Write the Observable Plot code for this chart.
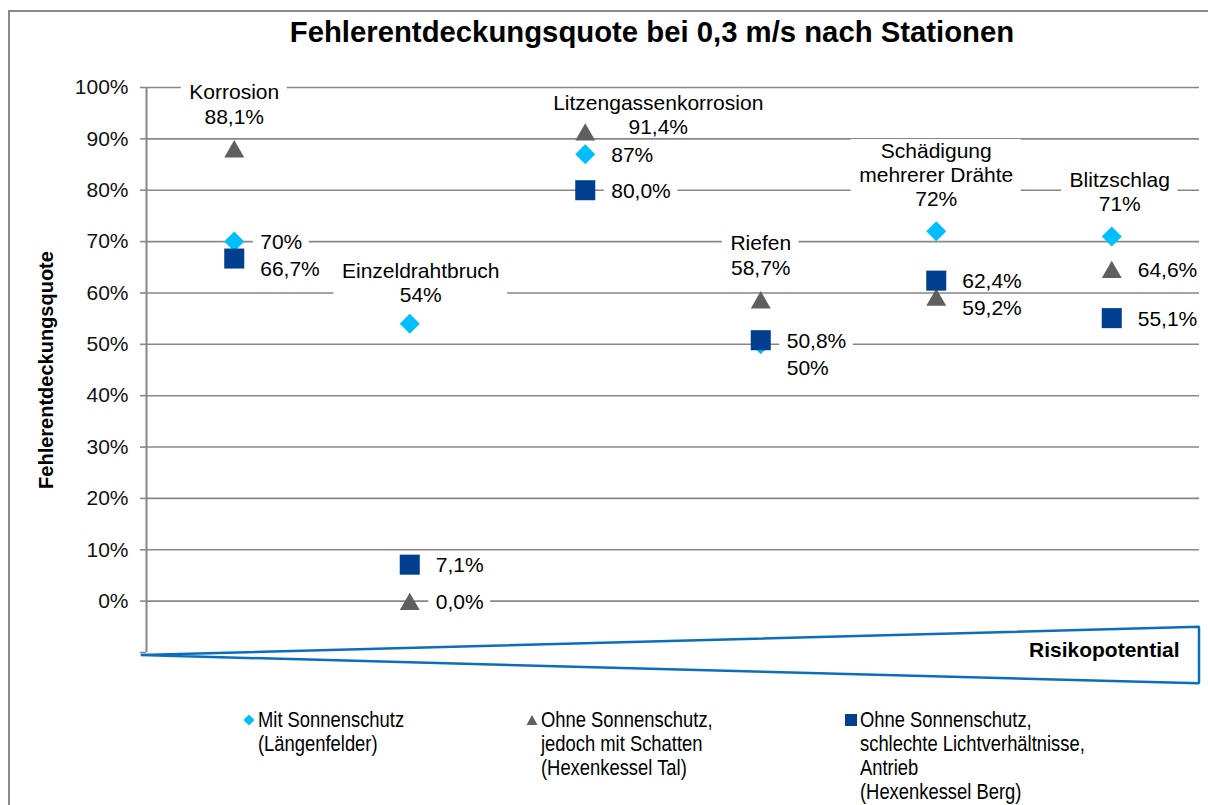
<!DOCTYPE html>
<html>
<head>
<meta charset="utf-8">
<script src="https://cdn.jsdelivr.net/npm/d3@7"></script>
<script src="https://cdn.jsdelivr.net/npm/@observablehq/plot@0.6"></script>
<style>
  html, body { margin: 0; padding: 0; background: #fff; overflow: hidden; }
  #wrap { position: relative; width: 1208px; height: 805px; overflow: hidden; font-family: "Liberation Sans", Arial, sans-serif; color: #000; }
  #frame { position: absolute; left: 8px; top: 10px; width: 1400px; height: 1000px; border: 2px solid #8a8a8a; box-sizing: border-box; }
  #chart { position: absolute; left: 0; top: 0; }
  #title { position: absolute; left: 146px; width: 1012px; top: 14px; text-align: center; font-weight: bold; font-size: 29.3px; line-height: 36px; }
  .leg { position: absolute; top: 708px; font-family: "Liberation Sans", Arial, sans-serif; font-size: 21.5px; line-height: 24px; white-space: pre; transform: scaleX(0.855); transform-origin: 0 0; }
  .legsym { position: absolute; top: 713px; }
</style>
</head>
<body>
<div id="wrap">
  <div id="frame"></div>
  <div id="chart"></div>
  <div id="title">Fehlerentdeckungsquote bei 0,3 m/s nach Stationen</div>
  <div id="legend"></div>
</div>
<script>
// ---------- data ----------
const categories = ["Korrosion", "Einzeldrahtbruch", "Litzengassenkorrosion", "Riefen", "Schädigung\nmehrerer Drähte", "Blitzschlag"];
const mitSonnenschutz = [70, 54, 87, 50, 72, 71];                 // Längenfelder
const ohneSonnenschutzSchatten = [88.1, 0.0, 91.4, 58.7, 59.2, 64.6]; // Hexenkessel Tal
const ohneSonnenschutzBerg = [66.7, 7.1, 80.0, 50.8, 62.4, 55.1];     // Hexenkessel Berg
const seriesNames = [
  "Mit Sonnenschutz\n(Längenfelder)",
  "Ohne Sonnenschutz,\njedoch mit Schatten\n(Hexenkessel Tal)",
  "Ohne Sonnenschutz,\nschlechte Lichtverhältnisse,\nAntrieb\n(Hexenkessel Berg)"
];
const yTicks = [-10, 0, 10, 20, 30, 40, 50, 60, 70, 80, 90, 100];
const yAxisTitle = "Fehlerentdeckungsquote";
const risikoLabel = "Risikopotential";

// ---------- styles / layout ----------
const fmtInt = v => `${v}%`;
const fmtDec = v => v.toFixed(1).replace(".", ",") + "%";
const series = [
  {values: mitSonnenschutz, format: fmtInt, symbol: "diamond2", fill: "#00BEFF", r: 9, dy: 0},
  {values: ohneSonnenschutzSchatten, format: fmtDec, symbol: "triangle", fill: "#5F5F5F", r: 7.4, dy: 3},
  {values: ohneSonnenschutzBerg, format: fmtDec, symbol: "square", fill: "#003F8F", r: 11.3, dy: 0}
];
const W = 1208, H = 700, ML = 146, MR = 9, MT = 87, MB = 48;
const FS = 21, LH = 1.15, LHPX = FS * LH;
const xDomain = [-0.5, categories.length - 0.5];
const yDomain = [-10, 100];
const kx = (W - ML - MR) / (xDomain[1] - xDomain[0]);
const ky = (H - MT - MB) / (yDomain[1] - yDomain[0]);
// pixel offsets of the category (top) labels: [dx, dy of last baseline]
const topOffsetDefault = [0, -25];
const topOffsets = {1: [11, -22], 2: [73, 2.5], 5: [8, -25]};
const rightDx = 26, minSep = 27;
const gridColor = "#878787";

// ---------- build points & labels ----------
const points = [];
series.forEach((s, k) => s.values.forEach((v, i) => points.push({i, k, v})));

const ctx = document.createElement("canvas").getContext("2d");
ctx.font = `${FS}px "Liberation Sans"`;
const topLabels = [], rightLabels = [], boxes = [];
categories.forEach((c, i) => {
  const pts = series.map((s, k) => ({k, v: s.values[i]})).sort((a, b) => b.v - a.v);
  const t = pts[0];
  const [odx, ody] = topOffsets[i] || topOffsetDefault;
  const text = c + "\n" + series[t.k].format(t.v);
  const lines = text.split("\n");
  const w = d3.max(lines, l => ctx.measureText(l).width);
  const lx = i + odx / kx, ly = t.v - ody / ky;
  topLabels.push({x: lx, y: ly, text});
  const n = lines.length;
  boxes.push({
    x1: lx - (w / 2 + 8) / kx, x2: lx + (w / 2 + 8) / kx,
    y1: ly - 3 / ky, y2: ly + ((n - 1) * LHPX + 18.5) / ky
  });
  let prev = Infinity;
  pts.slice(1).forEach(p => {
    const yv = Math.min(p.v, prev - minSep / ky);
    prev = yv;
    const txt = series[p.k].format(p.v);
    const wr = ctx.measureText(txt).width;
    const rx = i + rightDx / kx;
    rightLabels.push({x: rx, y: yv, text: txt});
    boxes.push({x1: rx - 7 / kx, x2: rx + (wr + 7) / kx, y1: yv - 11 / ky, y2: yv + 11 / ky});
  });
});

const wedge = [
  {x: xDomain[0] - 0.03, y1: -10.6, y2: -10.6},
  {x: xDomain[1], y1: -16.1, y2: -5.1}
];

const marks = [
  Plot.ruleY(yTicks.filter(d => d >= 0), {y: d => d, stroke: gridColor, strokeWidth: 1.6}),
  Plot.ruleX([xDomain[0]], {x: d => d, y1: () => yDomain[0], y2: () => yDomain[1], stroke: gridColor, strokeWidth: 2}),
  Plot.axisY({ticks: yTicks, tickFormat: d => d < 0 ? "" : d + "%", tickSize: 6, tickPadding: 12,
    fontSize: FS, stroke: gridColor, strokeWidth: 1.6, fill: "#111", label: null}),
  Plot.areaY(wedge, {x: "x", y1: "y1", y2: "y2", fill: "white", stroke: "#0A6EBD", strokeWidth: 2.5, strokeLinejoin: "miter"}),
  Plot.text([risikoLabel], {text: d => d, frameAnchor: "bottom-right", dx: -20, dy: 4, textAnchor: "end", fontWeight: "bold", fontSize: FS, fill: "#000"}),
  Plot.text([yAxisTitle], {text: d => d, frameAnchor: "left", dx: -100, rotate: -90, textAnchor: "middle", fontWeight: "bold", fontSize: 20, fill: "#000"}),
  Plot.rect(boxes, {x1: "x1", x2: "x2", y1: "y1", y2: "y2", fill: "white"}),
  Plot.text(topLabels, {x: "x", y: "y", text: "text", textAnchor: "middle", lineAnchor: "bottom", lineHeight: LH, fontSize: FS, fill: "#000"}),
  Plot.text(rightLabels, {x: "x", y: "y", text: "text", textAnchor: "start", lineAnchor: "middle", lineHeight: LH, fontSize: FS, fill: "#000"}),
  ...series.map((s, k) => Plot.dot(points.filter(p => p.k === k), {x: "i", y: "v", symbol: () => s.symbol, fill: s.fill, r: s.r, dy: s.dy}))
];

const chart = Plot.plot({
  width: W, height: H,
  marginLeft: ML, marginRight: MR, marginTop: MT, marginBottom: MB,
  x: {domain: xDomain, axis: null},
  y: {domain: yDomain, axis: null},
  symbol: {type: "identity"},
  style: {background: "transparent", fontFamily: '"Liberation Sans", Arial, sans-serif', fontSize: FS + "px", overflow: "visible"},
  marks
});
document.getElementById("chart").appendChild(chart);

// ---------- legend ----------
const legendPos = [{sym: 249, text: 258}, {sym: 532, text: 541}, {sym: 851, text: 860}];
const legendSvg = [
  `<svg width="12" height="14" viewBox="-6 -7 12 14"><path d="M0,-5.5L5.5,0L0,5.5L-5.5,0Z" fill="${series[0].fill}"/></svg>`,
  `<svg width="12" height="14" viewBox="-6 -7 12 14"><path d="M0,-5L5.5,5L-5.5,5Z" fill="${series[1].fill}"/></svg>`,
  `<svg width="12" height="14" viewBox="-6 -7 12 14"><rect x="-6" y="-6" width="12" height="12" fill="${series[2].fill}"/></svg>`
];
const leg = document.getElementById("legend");
seriesNames.forEach((name, k) => {
  const s = document.createElement("div");
  s.className = "legsym";
  s.style.left = (legendPos[k].sym - 6) + "px";
  s.innerHTML = legendSvg[k];
  leg.appendChild(s);
  const t = document.createElement("div");
  t.className = "leg";
  t.style.left = legendPos[k].text + "px";
  t.textContent = name;
  leg.appendChild(t);
});
</script>
</body>
</html>
